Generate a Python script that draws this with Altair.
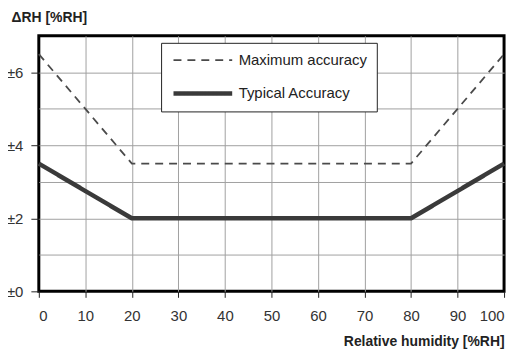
import altair as alt
import pandas as pd

series_names = ["Maximum accuracy", "Typical Accuracy"]
rh_points = [0, 20, 80, 100]
max_acc = [6.5, 3.5, 3.5, 6.5]
typ_acc = [3.5, 2.0, 2.0, 3.5]
x_ticks = [0, 10, 20, 30, 40, 50, 60, 70, 80, 90, 100]
y_grid = [0, 1, 2, 3, 4, 5, 6, 7]

rows = []
for name, vals in zip(series_names, [max_acc, typ_acc]):
    for i, (x, y) in enumerate(zip(rh_points, vals)):
        rows.append({"series": name, "rh": x, "acc": y, "order": i})
df = pd.DataFrame(rows)

FONT = "Liberation Sans"

chart = alt.Chart(df).mark_line(strokeCap="butt", strokeJoin="miter").encode(
    x=alt.X("rh:Q", scale=alt.Scale(domain=[0, 100], nice=False),
            axis=alt.Axis(values=x_ticks, title="Relative humidity [%RH]",
                          titleAnchor="end", titleAlign="right", titleX=468, titleY=50,
                          titleBaseline="middle",
                          gridOpacity={"condition": {"test": "datum.value == 0 || datum.value == 100", "value": 0}, "value": 1},
                          tickSize=6, labelPadding=11, domain=False)),
    y=alt.Y("acc:Q", scale=alt.Scale(domain=[0, 7], nice=False),
            axis=alt.Axis(values=y_grid, title="ΔRH [%RH]", titleAngle=0,
                          titleAlign="left", titleBaseline="middle",
                          titleX=-28, titleY=-18,
                          labelExpr="datum.value % 2 == 0 ? '±' + datum.value : ''",
                          tickOpacity={"condition": {"test": "datum.value % 2 == 0", "value": 1}, "value": 0},
                          gridOpacity={"condition": {"test": "datum.value == 0 || datum.value == 7", "value": 0}, "value": 1},
                          tickSize=8, labelPadding=8, domain=False)),
    order="order:Q",
    color=alt.Color("series:N", scale=alt.Scale(domain=series_names, range=["#4a4a4a", "#3a3a3a"]),
                    title=None),
    strokeDash=alt.StrokeDash("series:N", scale=alt.Scale(domain=series_names, range=[[8, 6], [1, 0]]),
                              title=None),
    strokeWidth=alt.StrokeWidth("series:N", scale=alt.Scale(domain=series_names, range=[1.8, 4.5]),
                                title=None),
).properties(
    width=468, height=257,
    autosize=alt.AutoSizeParams(type="none"),
    padding={"left": 31, "top": 27, "right": 10, "bottom": 62},
).configure_view(
    stroke="black", strokeWidth=3
).configure_axis(
    gridColor="#a0a0a0", gridWidth=1,
    tickColor="#222222", tickWidth=1,
    labelFont=FONT, labelFontSize=15, labelColor="#333333",
    titleFont=FONT, titleFontSize=14, titleFontWeight="bold", titleColor="#222222",
).configure_legend(
    orient="none", legendX=123, legendY=7,
    strokeColor="#222222", fillColor="white", padding=9,
    symbolType="M-4,0H4", symbolSize=218, symbolOffset=23,
    labelFont=FONT, labelFontSize=15, labelColor="#222222", labelOffset=26,
    rowPadding=15,
)

chart.save("out.html", embed_options={"renderer": "svg", "actions": False})
